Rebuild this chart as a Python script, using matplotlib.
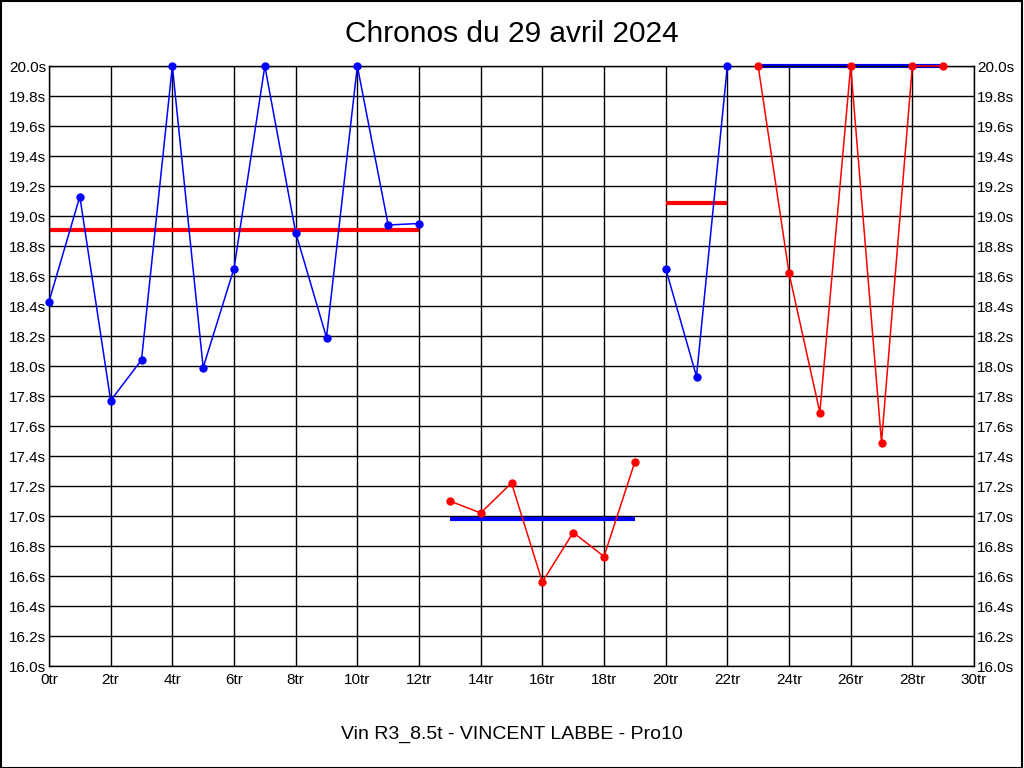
import matplotlib
matplotlib.use("Agg")
import matplotlib.pyplot as plt
import numpy as np

plt.rcParams['font.family'] = ['Liberation Sans', 'DejaVu Sans']

# tours et chronos (s) par série
laps1 = [0, 1, 2, 3, 4, 5, 6, 7, 8, 9, 10, 11, 12]
times1 = [18.43, 19.13, 17.77, 18.04, 20.0, 17.99, 18.65, 20.0, 18.89, 18.19, 20.0, 18.94, 18.95]
mean1 = 18.91

laps2 = [13, 14, 15, 16, 17, 18, 19]
times2 = [17.10, 17.02, 17.22, 16.56, 16.89, 16.73, 17.36]
mean2 = 16.98

laps3 = [20, 21, 22]
times3 = [18.65, 17.93, 20.0]
mean3 = 19.09

laps4 = [23, 24, 25, 26, 27, 28, 29]
times4 = [20.0, 18.62, 17.69, 20.0, 17.49, 20.0, 20.0]
mean4 = 20.0

series = [
    (laps1, times1, mean1, 'blue', 'red'),
    (laps2, times2, mean2, 'red', 'blue'),
    (laps3, times3, mean3, 'blue', 'red'),
    (laps4, times4, mean4, 'red', 'blue'),
]

fig = plt.figure(figsize=(10.24, 7.68), dpi=100)
# cadre autour de l'image
fig.patches.append(plt.Rectangle((0.0005, 0.0005), 0.998, 0.998, transform=fig.transFigure,
                                 fill=False, edgecolor='black', linewidth=1.5))

ax = fig.add_axes([49/1024, 1 - 666/768, 925/1024, 600/768])

for laps, times, mean, col, mcol in series:
    ax.plot([laps[0], laps[-1]], [mean, mean], color=mcol, linewidth=3, zorder=2, solid_capstyle='butt', clip_on=False)
    ax.plot(laps, times, color=col, linewidth=1.1, marker='o', markersize=5, zorder=3, clip_on=False)

ax.set_xlim(0, 30)
ax.set_ylim(16.0, 20.0)
xt = np.arange(0, 31, 2)
yt = np.round(np.arange(16.0, 20.01, 0.2), 1)
ax.set_xticks(xt)
ax.set_xticklabels(['%dtr' % v for v in xt])
ax.set_yticks(yt)
ax.set_yticklabels(['%.1fs' % v for v in yt])
ax.tick_params(axis='both', length=0, labelsize=11, colors='black')
ax.tick_params(axis='y', pad=2, labelright=True)
ax.tick_params(axis='x', pad=5)
ax.grid(True, color='black', linewidth=1.0)
ax.set_axisbelow(True)
for s in ax.spines.values():
    s.set_linewidth(1.0)

fig.text(0.5, 1 - 34/768, 'Chronos du 29 avril 2024', ha='center', va='center', fontsize=21.5)
fig.text(0.5, 1 - 734/768, 'Vin R3_8.5t - VINCENT LABBE - Pro10', ha='center', va='center', fontsize=14)

fig.savefig('out.png', dpi=100)
